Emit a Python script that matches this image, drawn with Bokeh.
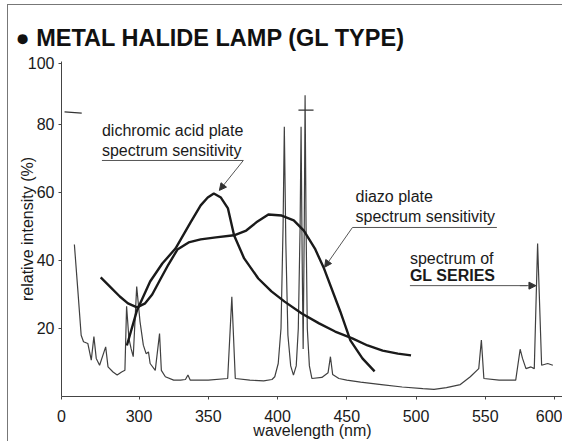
from bokeh.plotting import figure
from bokeh.models import Range1d, FixedTicker, Label, Arrow, NormalHead
from bokeh.embed import file_html
from bokeh.resources import INLINE

# ---- data ----
spec_nm = [253.3, 255.7, 258.2, 259.9, 263.0, 265.5, 267.4, 269.1, 271.5, 275.9,
           277.6, 281.2, 284.2, 287.4, 289.8, 291.0, 292.7, 294.3, 295.8, 298.3,
           300.7, 303.1, 305.1, 306.8, 308.0, 311.7, 314.8, 316.1, 319.0, 325.0,
           330.0, 333.5, 335.3, 337.0, 350.0, 364.0, 367.0, 369.5, 380.0, 390.0,
           396.0, 398.0, 400.5, 402.5, 404.0, 404.9, 406.0, 407.5, 409.5, 411.5,
           413.5, 415.0, 416.3, 417.0, 417.8, 418.5, 419.3, 419.9, 420.6, 421.5,
           423.0, 424.8, 432.0, 436.5, 438.2, 439.8, 444.3, 450.0, 460.0, 475.0,
           490.0, 505.0, 513.0, 522.0, 532.0, 539.2, 545.3, 547.2, 549.0, 560.0,
           572.0, 575.2, 576.9, 579.4, 583.0, 585.4, 587.8, 590.7, 595.1, 598.8]
spec_val = [44.7, 31.8, 18.0, 16.1, 15.6, 10.7, 17.6, 11.2, 9.2, 14.6,
            8.7, 7.2, 6.3, 7.2, 7.7, 26.5, 17.0, 14.0, 11.7, 32.3,
            22.0, 15.1, 12.6, 13.1, 9.7, 7.7, 18.5, 7.7, 5.8, 4.8,
            4.8, 5.0, 6.3, 4.8, 4.8, 5.3, 29.3, 5.3, 4.8, 4.6,
            5.0, 5.8, 9.7, 20.0, 50.0, 79.3, 45.0, 18.0, 9.0, 6.3,
            9.0, 20.0, 50.0, 79.3, 40.0, 14.0, 50.0, 88.6, 50.0, 20.0,
            9.0, 5.3, 5.6, 7.0, 11.7, 6.5, 5.3, 4.8, 4.2, 3.5,
            2.8, 2.3, 2.1, 2.6, 3.5, 5.8, 8.2, 16.6, 5.3, 4.8,
            4.8, 13.9, 11.2, 8.2, 8.7, 8.2, 45.0, 9.2, 9.7, 9.2]

dichro_nm = [291.2, 298.5, 308.0, 316.8, 326.3, 337.2, 344.5, 349.6, 354.0, 359.1,
             364.2, 368.6, 375.9, 386.1, 395.6, 405.1, 417.5, 430.0, 441.6, 454.0,
             465.0, 475.9, 486.9, 496.4]
dichro_val = [15.0, 25.3, 33.8, 39.1, 43.5, 51.2, 56.2, 58.5, 59.7, 58.5,
              55.3, 47.4, 40.6, 34.7, 30.9, 27.9, 24.4, 21.5, 19.1, 17.1,
              15.0, 13.5, 12.6, 12.1]

diazo_nm = [272.3, 278.8, 286.1, 292.0, 298.5, 304.4, 309.5, 315.3, 321.2, 327.7,
            335.8, 344.5, 355.5, 368.6, 377.4, 384.7, 393.4, 403.0, 411.7, 419.0,
            427.0, 433.6, 445.3, 452.6, 461.3, 470.1]
diazo_val = [35.0, 32.4, 29.4, 27.4, 26.2, 27.4, 30.0, 34.4, 38.8, 43.2,
             45.3, 46.2, 46.8, 47.4, 48.8, 51.2, 53.5, 53.2, 51.8, 48.8,
             43.5, 37.6, 25.0, 16.5, 11.2, 7.4]

x_ticks = [244, 300, 350, 400, 450, 500, 550, 600]
x_tick_labels = ["0", "300", "350", "400", "450", "500", "550", "600"]
y_ticks = [20, 40, 60, 80, 98]
y_tick_labels = ["20", "40", "60", "80", "100"]

FONT = "Liberation Sans"
INK = "#1a1a1a"

p = figure(width=555, height=437, output_backend="svg", toolbar_location=None,
           x_range=Range1d(244, 606.5), y_range=Range1d(0, 98.5),
           min_border_left=53, min_border_right=0, min_border_top=56,
           min_border_bottom=46)
p.styles = {"border-top": "1px solid #777777", "border-left": "1px solid #777777",
            "margin-left": "7px", "margin-top": "4px"}
p.grid.visible = False
p.outline_line_color = None
p.background_fill_color = "white"
p.border_fill_color = "white"

p.title.text = "● METAL HALIDE LAMP (GL TYPE)"
p.title.text_font = FONT
p.title.text_font_size = "23.5px"
p.title.text_font_style = "bold"
p.title.text_color = "#111111"
p.title.align = "left"
p.title.vertical_align = "top"
p.title.offset = -46
p.title.standoff = 18

for ax in (p.xaxis[0], p.yaxis[0]):
    ax.axis_line_color = "#444444"
    ax.major_tick_line_color = "#444444"
    ax.minor_tick_line_color = None
    ax.major_tick_in = 0
    ax.major_tick_out = 3
    ax.major_label_text_font = FONT
    ax.major_label_text_font_size = "16px"
    ax.major_label_text_color = INK
    ax.axis_label_text_font = FONT
    ax.axis_label_text_font_size = "16px"
    ax.axis_label_text_font_style = "normal"
    ax.axis_label_text_color = INK

p.xaxis.ticker = FixedTicker(ticks=x_ticks)
p.xaxis.major_label_overrides = dict(zip(x_ticks, x_tick_labels))
p.xaxis.axis_label = "wavelength (nm)"
p.xaxis.major_label_standoff = 10
p.xaxis.axis_label_standoff = -3

p.yaxis.ticker = FixedTicker(ticks=y_ticks)
p.yaxis.major_label_overrides = dict(zip(y_ticks, y_tick_labels))
p.yaxis.axis_label = "relative intensity (%)"
p.yaxis.major_label_standoff = 4
p.yaxis.axis_label_standoff = -11

# curves
p.line(spec_nm, spec_val, line_color="#404040", line_width=1.2)
p.line(dichro_nm, dichro_val, line_color=INK, line_width=2.4)
p.line(diazo_nm, diazo_val, line_color=INK, line_width=2.4)

# axis break marks
p.segment(x0=[246.2, 415.1], y0=[83.7, 84.2], x1=[258.6, 426.0], y1=[83.3, 84.2],
          line_color="#333333", line_width=1.2)

# annotation texts
def txt(x, y, s, bold=False):
    p.add_layout(Label(x=x, y=y, text=s, text_font=FONT, text_font_size="16px",
                       text_font_style="bold" if bold else "normal",
                       text_color=INK, text_baseline="middle", text_align="left"))

txt(273.2, 78.2, "dichromic acid plate")
txt(273.2, 72.4, "spectrum sensitivity")
txt(456.3, 58.8, "diazo plate")
txt(456.3, 52.9, "spectrum sensitivity")
txt(495.6, 40.6, "spectrum of")
txt(495.6, 35.6, "GL SERIES", bold=True)

p.segment(x0=[273.2, 454.1, 495.6], y0=[69.4, 49.7, 32.6],
          x1=[375.3, 558.4, 580.0], y1=[69.4, 49.7, 32.6],
          line_color="#555555", line_width=1)
head = dict(size=7, fill_color="#333333", line_color="#333333")
p.add_layout(Arrow(end=NormalHead(**head), x_start=375.3, y_start=69.4,
                   x_end=358.0, y_end=60.6, line_color="#555555", line_width=1))
p.add_layout(Arrow(end=NormalHead(**head), x_start=454.1, y_start=49.7,
                   x_end=434.0, y_end=38.0, line_color="#555555", line_width=1))
p.add_layout(Arrow(end=NormalHead(**head), x_start=575.0, y_start=32.6,
                   x_end=586.6, y_end=32.6, line_color="#555555", line_width=1))

open("out.html", "w").write(file_html(p, INLINE))
